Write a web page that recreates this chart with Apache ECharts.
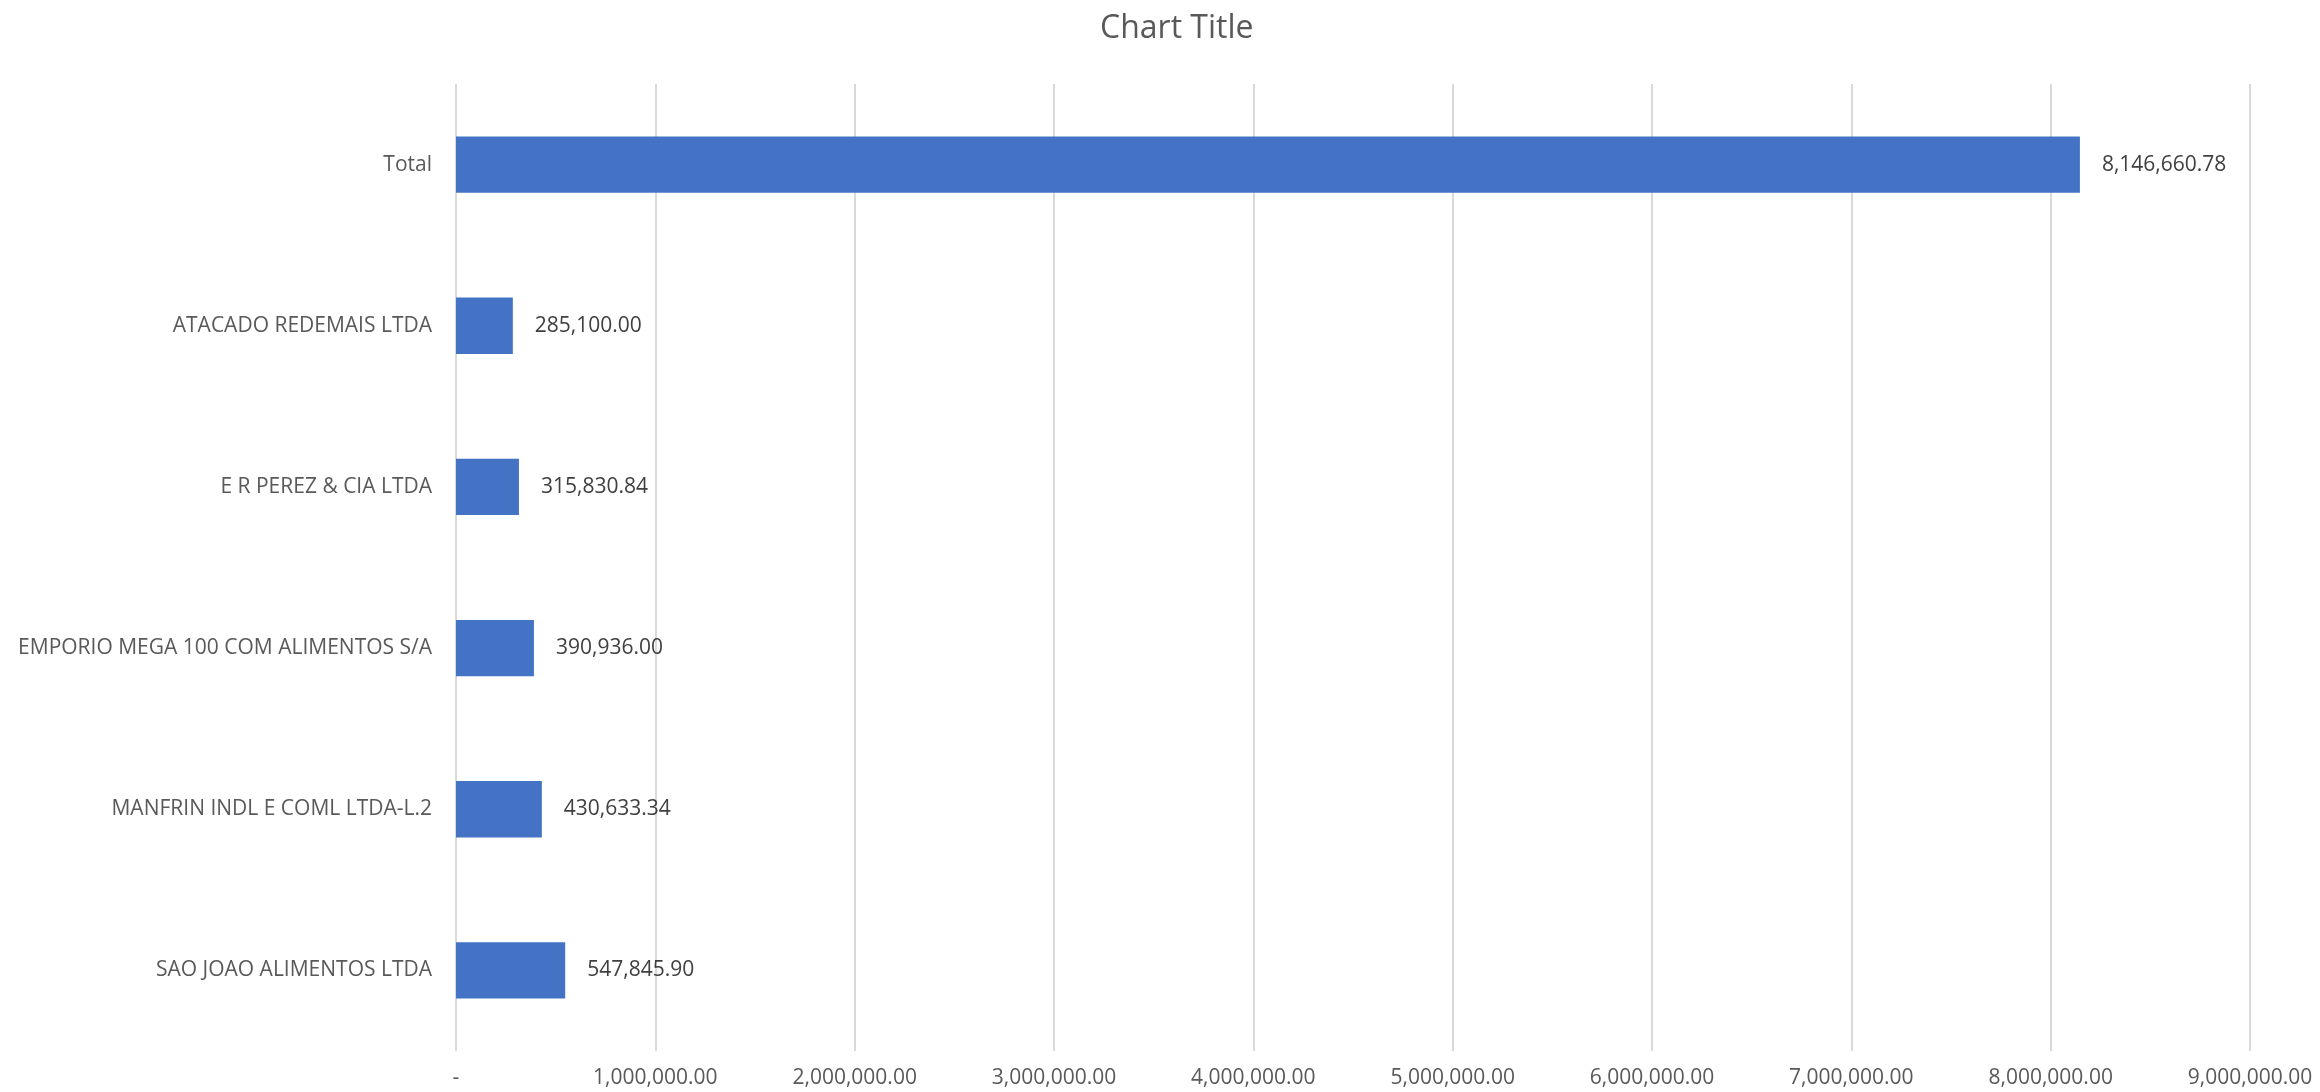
<!DOCTYPE html>
<html><head><meta charset="utf-8">
<script src="https://cdn.jsdelivr.net/npm/echarts@6/dist/echarts.min.js"></script>
<style>html,body{margin:0;padding:0;background:#fff}#c{width:2320px;height:1092px}</style>
</head><body><div id="c"></div>
<script>
const categories = ["SAO JOAO ALIMENTOS LTDA","MANFRIN INDL E COML LTDA-L.2","EMPORIO MEGA 100 COM ALIMENTOS S/A","E R PEREZ & CIA LTDA","ATACADO REDEMAIS LTDA","Total"];
const values = [547845.90, 430633.34, 390936.00, 315830.84, 285100.00, 8146660.78];
const titleText = "Chart Title";
const fmt = v => Number(v).toLocaleString('en-US',{minimumFractionDigits:2,maximumFractionDigits:2});
const font = "'Open Sans', 'Noto Sans', sans-serif";
const chart = echarts.init(document.getElementById('c'), null, {renderer:'canvas'});
chart.setOption({
  animation:false,
  backgroundColor:'#ffffff',
  title:{text:titleText,left:1095,top:8,textStyle:{fontFamily:font,fontSize:32,fontWeight:'normal',color:'#595959'}},
  grid:{left:456,right:70,top:84,bottom:41,containLabel:false},
  xAxis:{type:'value',min:0,max:9000000,interval:1000000,
    axisLine:{show:false},axisTick:{show:false},
    splitLine:{show:true,lineStyle:{color:'#d9d9d9',width:2}},
    axisLabel:{fontFamily:font,fontSize:21,color:'#595959',margin:17,
      formatter:v=> v===0 ? '-' : fmt(v)}},
  yAxis:{type:'category',data:categories,
    axisLine:{show:false},axisTick:{show:false},
    axisLabel:{fontFamily:font,fontSize:21,color:'#595959',margin:24}},
  series:[{type:'bar',data:values,barCategoryGap:'65%',
    itemStyle:{color:'#4472c4'},
    label:{show:true,position:'right',distance:22,fontFamily:font,fontSize:21,color:'#404040',
      formatter:p=>fmt(p.value)}}]
});
</script></body></html>
